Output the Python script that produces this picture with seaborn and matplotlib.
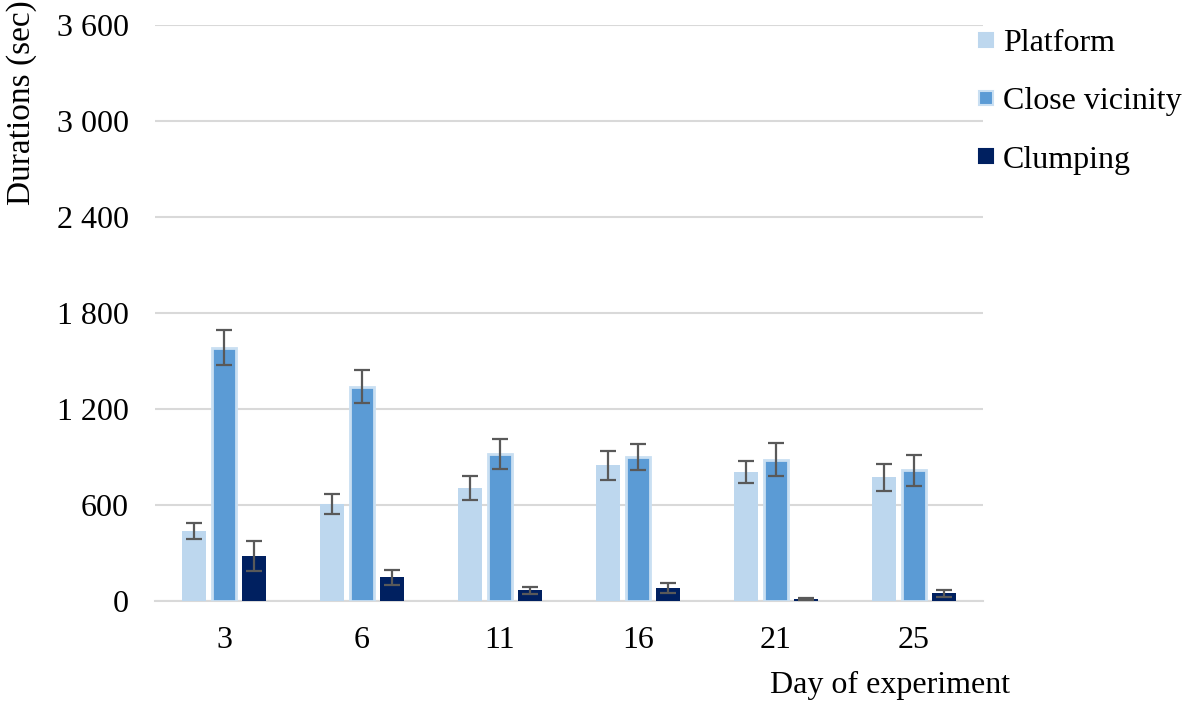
import matplotlib
matplotlib.use("Agg")
import matplotlib.pyplot as plt
from matplotlib.lines import Line2D
from matplotlib.ticker import FuncFormatter
import seaborn as sns
import pandas as pd
import numpy as np

days = ["3", "6", "11", "16", "21", "25"]
series = ["Platform", "Close vicinity", "Clumping"]
platform = [437, 606, 708, 847, 805, 772]
close_vicinity = [1582, 1340, 920, 901, 884, 816]
clumping = [281, 148, 66, 82, 12, 49]
platform_err = [48, 64, 74, 88, 67, 85]
close_vicinity_err = [110, 104, 92, 80, 102, 95]
clumping_err = [92, 45, 22, 31, 8, 22]
y_ticks = [0, 600, 1200, 1800, 2400, 3000, 3600]
colors = ["#BDD7EE", "#5B9BD5", "#002060"]

sns.set_theme(style="white")
plt.rcParams["font.family"] = ["Liberation Serif", "DejaVu Serif"]
plt.rcParams["text.color"] = "black"
FS = 23

vals = [platform, close_vicinity, clumping]
errs = [platform_err, close_vicinity_err, clumping_err]
rows = []
for s, v in zip(series, vals):
    for d, x in zip(days, v):
        rows.append({"Day": d, "Series": s, "Value": x})
df = pd.DataFrame(rows)

fig = plt.figure(figsize=(11.9, 7.04), dpi=100)
ax = fig.add_axes([155 / 1190, 1 - 601 / 704, (983 - 155) / 1190, (601 - 25) / 704])

sns.barplot(data=df, x="Day", y="Value", hue="Series", order=days, hue_order=series,
            palette=colors, saturation=1, width=0.65, gap=0.18, errorbar=None,
            legend=False, ax=ax, linewidth=0, zorder=3)

containers = ax.containers
for cont, err in zip(containers, errs):
    xs = [p.get_x() + p.get_width() / 2 for p in cont.patches]
    hs = [p.get_height() for p in cont.patches]
    ax.errorbar(xs, hs, yerr=err, fmt="none", ecolor="#595959", elinewidth=1.6,
                capsize=6, capthick=1.6, zorder=5)
for p in containers[1].patches:
    p.set_edgecolor("#C9DFF2")
    p.set_linewidth(2)

ax.set_ylim(0, 3600)
ax.set_xlim(-0.5, 5.5)
ax.set_yticks(y_ticks)
ax.yaxis.set_major_formatter(FuncFormatter(lambda v, p: f"{int(v):,}".replace(",", " ")))
ax.grid(axis="y", color="#D9D9D9", linewidth=1.5, zorder=0)
ax.set_axisbelow(True)
for sp in ["top", "right", "left"]:
    ax.spines[sp].set_visible(False)
ax.spines["bottom"].set_color("#D9D9D9")
ax.spines["bottom"].set_linewidth(1.5)
ax.tick_params(axis="y", length=0, pad=19, labelsize=FS, labelcolor="black")
ax.tick_params(axis="x", length=0, pad=18, labelsize=FS, labelcolor="black")
ax.set_xlabel("")
ax.set_ylabel("")

fig.text(890 / 1190, 1 - 685 / 704, "Day of experiment", ha="center", va="center",
         fontsize=FS, color="black")
fig.text(22 / 1190, 1 - 103 / 704, "Durations (sec)", ha="center", va="center",
         rotation=90, fontsize=24, color="black")

edges = [colors[0], "#C9DFF2", colors[2]]
handles = [Line2D([], [], marker="s", linestyle="none", markersize=9.5,
                  markerfacecolor=c, markeredgecolor=e, markeredgewidth=1.5)
           for c, e in zip(colors, edges)]
leg = fig.legend(handles, series, loc="upper left", bbox_to_anchor=(976 / 1190, 1 - 29 / 704),
                 frameon=False, fontsize=FS, handlelength=0.6, handletextpad=0.25,
                 labelspacing=0.9, borderaxespad=0, borderpad=0)
for t in leg.get_texts():
    t.set_color("black")

fig.savefig("out.png", dpi=100)
